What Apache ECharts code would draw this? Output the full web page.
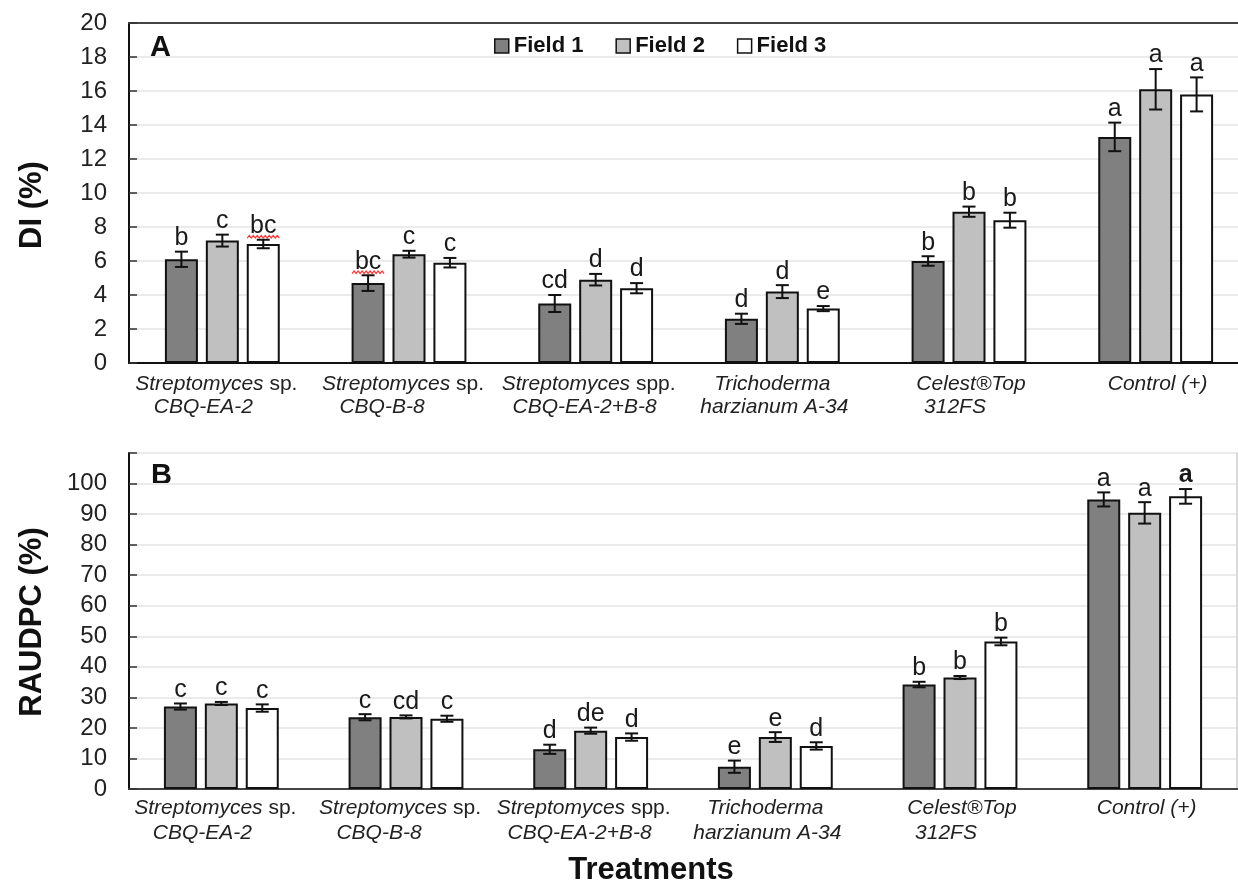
<!DOCTYPE html>
<html><head><meta charset="utf-8">
<script src="https://cdn.jsdelivr.net/npm/echarts@6/dist/echarts.min.js"></script>
<style>html,body{margin:0;padding:0;background:#fff}#c{width:1238px;height:883px}</style>
</head><body><div id="c"></div>
<script>
// ---------------- DATA ----------------
const categories = ['Streptomyces sp.\nCBQ-EA-2', 'Streptomyces sp.\nCBQ-B-8', 'Streptomyces spp.\nCBQ-EA-2+B-8',
  'Trichoderma\nharzianum A-34', 'Celest®Top\n312FS', 'Control (+)'];
const fields = ['Field 1', 'Field 2', 'Field 3'];

// Panel A: DI (%)
const diField1 = [6.1, 4.7, 3.5, 2.6, 6.0, 13.3];
const diField2 = [7.2, 6.4, 4.9, 4.2, 8.9, 16.1];
const diField3 = [7.0, 5.9, 4.4, 3.2, 8.4, 15.8];
const diErr1 = [0.45, 0.46, 0.5, 0.3, 0.28, 0.84];
const diErr2 = [0.35, 0.2, 0.34, 0.38, 0.3, 1.19];
const diErr3 = [0.25, 0.28, 0.3, 0.15, 0.44, 1.0];
const diLetters1 = ['b', 'bc', 'cd', 'd', 'b', 'a'];
const diLetters2 = ['c', 'c', 'd', 'd', 'b', 'a'];
const diLetters3 = ['bc', 'c', 'd', 'e', 'b', 'a'];
const diSpellMark1 = [0, 1, 0, 0, 0, 0];
const diSpellMark3 = [1, 0, 0, 0, 0, 0];
const diTickLabels = ['0', '2', '4', '6', '8', '10', '12', '14', '16', '18', '20'];

// Panel B: RAUDPC (%)
const raField1 = [27.0, 23.5, 13.0, 7.3, 34.2, 94.8];
const raField2 = [28.0, 23.6, 19.1, 17.0, 36.5, 90.4];
const raField3 = [26.5, 23.0, 17.0, 14.1, 48.3, 95.8];
const raErr1 = [1.0, 1.0, 1.5, 2.0, 0.9, 2.3];
const raErr2 = [0.5, 0.5, 1.0, 1.6, 0.5, 3.5];
const raErr3 = [1.2, 1.0, 1.2, 1.2, 1.25, 2.4];
const raLetters1 = ['c', 'c', 'd', 'e', 'b', 'a'];
const raLetters2 = ['c', 'cd', 'de', 'e', 'b', 'a'];
const raLetters3 = ['c', 'c', 'd', 'd', 'b', 'a'];
const raBoldLetter3 = [0, 0, 0, 0, 0, 1];
const raTickLabels = ['0', '10', '20', '30', '40', '50', '60', '70', '80', '90', '100'];

// ---------------- STYLE / LAYOUT ----------------
const FONT = 'Liberation Sans, Arial, sans-serif';
const FILLS = ['#808080', '#c0c0c0', '#ffffff'];
const BAR_W = 33, BAR_GAP = 0.24;
const STEP = BAR_W * (1 + BAR_GAP);
// small horizontal nudges of the two label lines (px) to mimic the original's text placement
const shiftL1 = [-6, -6, -7, -10, 2, 2];
const shiftL2 = [-19, -27, -11, -8, -14, 0];

const rich = {};
categories.forEach((c, i) => {
  const s1 = shiftL1[i], s2 = shiftL2[i];
  const p1 = [0, s1 < 0 ? -2 * s1 : 0, 0, s1 > 0 ? 2 * s1 : 0];
  const p2 = [0, s2 < 0 ? -2 * s2 : 0, 0, s2 > 0 ? 2 * s2 : 0];
  const base = { fontFamily: FONT, fontSize: 21, color: '#222' };
  rich['a' + i] = Object.assign({}, base, { fontStyle: 'italic', padding: [0, 0, 0, p1[3]] });
  rich['b' + i] = Object.assign({}, base, { fontStyle: 'normal', padding: [0, p1[1], 0, 0] });
  rich['w' + i] = Object.assign({}, base, { fontStyle: 'italic', padding: p1 });
  rich['c' + i] = Object.assign({}, base, { fontStyle: 'italic', padding: p2 });
});
function catLabel(val, idx) {
  const lines = val.split('\n');
  let first;
  const m = lines[0].match(/^(.*?)( spp?\.)$/);
  if (m) first = '{a' + idx + '|' + m[1] + '}{b' + idx + '|' + m[2] + '}';
  else first = '{w' + idx + '|' + lines[0] + '}';
  if (lines.length > 1) return first + '\n{c' + idx + '|' + lines[1] + '}';
  return first;
}

function barSeries(name, values, k, xi, yi) {
  return {
    name: name, type: 'bar', xAxisIndex: xi, yAxisIndex: yi, data: values,
    barWidth: BAR_W, barGap: (BAR_GAP * 100) + '%',
    itemStyle: { color: FILLS[k], borderColor: '#111', borderWidth: 2 },
    emphasis: { disabled: true }, z: 2
  };
}
function errSeries(values, errs, letters, k, xi, yi, spell, bold) {
  return {
    type: 'custom', xAxisIndex: xi, yAxisIndex: yi, z: 6, silent: true,
    encode: { x: 0, y: 1 },
    data: values.map((v, i) => [i, v, errs[i]]),
    renderItem: function (params, api) {
      const i = api.value(0), v = api.value(1), e = api.value(2);
      const c = api.coord([i, v]);
      const x = c[0] + (k - 1) * STEP;
      const yT = api.coord([i, v + e])[1];
      const yB = api.coord([i, v - e])[1];
      const cap = 6.5;
      const st = { stroke: '#111', lineWidth: 2 };
      const ch = [
        { type: 'line', shape: { x1: x, y1: yT, x2: x, y2: yB }, style: st },
        { type: 'line', shape: { x1: x - cap, y1: yT, x2: x + cap, y2: yT }, style: st },
        { type: 'line', shape: { x1: x - cap, y1: yB, x2: x + cap, y2: yB }, style: st },
        { type: 'text', style: { text: letters[i], x: x, y: yT - 1, align: 'center', verticalAlign: 'bottom',
          font: (bold && bold[i] ? 'bold ' : '') + '25px ' + FONT, fill: '#1a1a1a' } }
      ];
      if (spell && spell[i]) {
        const pts = [];
        for (let j = 0; j <= 16; j++) pts.push([x - 16 + j * 2, yT - 3 + (j % 2 ? -1.3 : 1.3)]);
        ch.push({ type: 'polyline', shape: { points: pts }, style: { stroke: '#ff3030', lineWidth: 1.2, fill: null } });
      }
      return { type: 'group', children: ch };
    }
  };
}

function valueAxis(gi, max, interval, labels) {
  return {
    type: 'value', gridIndex: gi, min: 0, max: max, interval: interval,
    axisLine: { show: true, lineStyle: { color: '#111', width: 2 } },
    axisTick: { show: true, inside: true, length: 8, lineStyle: { color: '#333', width: 1.5 } },
    axisLabel: { margin: 22, fontFamily: FONT, fontSize: 24, color: '#222',
      formatter: function (v) { const idx = labels.indexOf(String(v)); return idx >= 0 ? labels[idx] : ''; } },
    splitLine: { show: true, lineStyle: { color: '#ebebeb', width: 2 } }
  };
}
function catAxis(gi, margin, lh) {
  return {
    type: 'category', gridIndex: gi, data: categories,
    axisLine: { show: true, lineStyle: { color: '#111', width: 2 } },
    axisTick: { show: false },
    axisLabel: { interval: 0, margin: margin, lineHeight: lh, formatter: catLabel, rich: rich,
      fontFamily: FONT, fontSize: 21, color: '#222' }
  };
}
function topAxis(gi) {
  return {
    type: 'category', gridIndex: gi, data: categories, position: 'top',
    axisLine: { show: true, lineStyle: { color: '#444', width: 2 } },
    axisTick: { show: false }, axisLabel: { show: false }, splitLine: { show: false }
  };
}

const chart = echarts.init(document.getElementById('c'), null, { renderer: 'canvas' });
const option = {
  animation: false,
  backgroundColor: '#fff',
  grid: [
    { left: 129, top: 23, width: 1120, height: 340, outerBoundsMode: 'none', containLabel: false },
    { left: 129, top: 453, width: 1108, height: 336, outerBoundsMode: 'none', containLabel: false }
  ],
  legend: {
    data: fields, left: 489, top: 30, icon: 'rect', itemWidth: 14, itemHeight: 14, itemGap: 32,
    itemStyle: { borderColor: '#111', borderWidth: 1.5 },
    textStyle: { fontFamily: FONT, fontSize: 22, fontWeight: 'bold', color: '#111' },
    selectedMode: false
  },
  xAxis: [catAxis(0, 10, 23), catAxis(1, 7, 25), topAxis(0), topAxis(1)],
  yAxis: [
    valueAxis(0, 20, 2, diTickLabels),
    valueAxis(1, 110, 10, raTickLabels),
    { type: 'value', gridIndex: 1, min: 0, max: 110, interval: 10, position: 'right',
      axisLine: { show: true, lineStyle: { color: '#cfcfcf', width: 1.5 } },
      axisTick: { show: false }, axisLabel: { show: false }, splitLine: { show: false } }
  ],
  series: [
    barSeries(fields[0], diField1, 0, 0, 0),
    barSeries(fields[1], diField2, 1, 0, 0),
    barSeries(fields[2], diField3, 2, 0, 0),
    errSeries(diField1, diErr1, diLetters1, 0, 0, 0, diSpellMark1),
    errSeries(diField2, diErr2, diLetters2, 1, 0, 0),
    errSeries(diField3, diErr3, diLetters3, 2, 0, 0, diSpellMark3),
    barSeries(fields[0], raField1, 0, 1, 1),
    barSeries(fields[1], raField2, 1, 1, 1),
    barSeries(fields[2], raField3, 2, 1, 1),
    errSeries(raField1, raErr1, raLetters1, 0, 1, 1),
    errSeries(raField2, raErr2, raLetters2, 1, 1, 1),
    errSeries(raField3, raErr3, raLetters3, 2, 1, 1, null, raBoldLetter3)
  ],
  graphic: [
    { type: 'text', left: 150, top: 33, style: { text: 'A', font: 'bold 29px ' + FONT, fill: '#111' } },
    { type: 'text', left: 151, top: 461, style: { text: 'B', font: 'bold 29px ' + FONT, fill: '#111' } },
    { type: 'text', x: 32, y: 205, rotation: Math.PI / 2,
      style: { text: 'DI (%)', font: 'bold 31px ' + FONT, fill: '#111', align: 'center', verticalAlign: 'middle' } },
    { type: 'text', x: 32, y: 622, rotation: Math.PI / 2,
      style: { text: 'RAUDPC (%)', font: 'bold 31px ' + FONT, fill: '#111', align: 'center', verticalAlign: 'middle' } },
    { type: 'text', x: 651, y: 870,
      style: { text: 'Treatments', font: 'bold 31px ' + FONT, fill: '#111', align: 'center', verticalAlign: 'middle' } }
  ]
};
chart.setOption(option);
</script>
</body></html>
